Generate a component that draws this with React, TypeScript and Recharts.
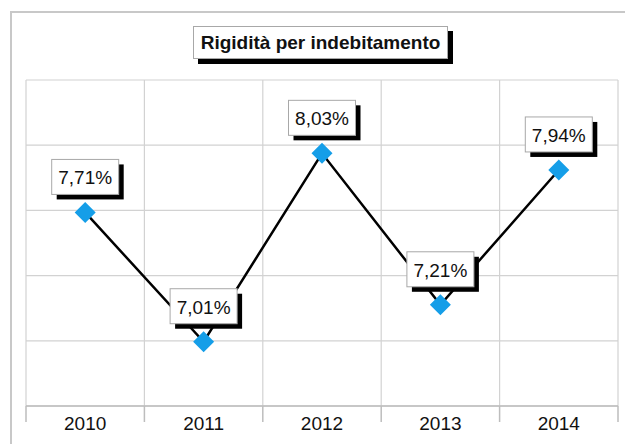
import React from 'react';
import { LineChart, Line, XAxis, YAxis, CartesianGrid, LabelList } from 'recharts';

const title = 'Rigidità per indebitamento';
const categories = ['2010', '2011', '2012', '2013', '2014'];
const values = [7.71, 7.01, 8.03, 7.21, 7.94];
const xBoundaries = [-0.5, 0.5, 1.5, 2.5, 3.5, 4.5];
const yTicks = [6.662, 7.015, 7.368, 7.721, 8.074, 8.427];

const data = values.map((v, i) => ({ idx: i, year: categories[i], value: v }));

const FONT = '"Liberation Sans", Arial, sans-serif';

const fmt = (v: number) => v.toFixed(2).replace('.', ',') + '%';

const YearTick = (props: any) => {
  const { x, y, payload, width, visibleTicksCount } = props;
  const ci = Math.round(payload.value + 0.5);
  if (ci < 0 || ci >= categories.length) return null;
  const count = visibleTicksCount || xBoundaries.length;
  const half = (width || 592) / (count - 1) / 2;
  return (
    <text
      x={x + half}
      y={y}
      textAnchor="middle"
      dominantBaseline="central"
      fontSize={19}
      fontFamily={FONT}
      fill="#111"
    >
      {categories[ci]}
    </text>
  );
};

const Diamond = (props: any) => {
  const { cx, cy } = props;
  if (cx == null || cy == null) return null;
  const r = 10.5;
  return (
    <polygon
      points={`${cx},${cy - r} ${cx + r},${cy} ${cx},${cy + r} ${cx - r},${cy}`}
      fill="#159ee8"
      stroke="none"
    />
  );
};

const ValueLabel = (props: any) => {
  const { x, y, value } = props;
  if (x == null || y == null) return null;
  const w = 67;
  const h = 35;
  const gap = 18;
  const bx = x - w / 2;
  const by = y - gap - h;
  return (
    <g>
      <rect x={bx + 5} y={by + 5} width={w} height={h} fill="#000" />
      <rect x={bx} y={by} width={w} height={h} fill="#fff" stroke="#a8a8a8" strokeWidth={1} />
      <text
        x={x}
        y={by + h / 2 + 1}
        textAnchor="middle"
        dominantBaseline="central"
        fontSize={19}
        fontFamily={FONT}
        fill="#111"
      >
        {fmt(Number(value))}
      </text>
    </g>
  );
};

export default function App() {
  return (
    <div
      style={{
        position: 'absolute',
        left: 0,
        top: 0,
        width: 625,
        height: 444,
        overflow: 'hidden',
        background: '#fff',
      }}
    >
      <div
        style={{
          position: 'absolute',
          left: 10,
          top: 11,
          width: 700,
          height: 500,
          border: '2px solid #c8c8c8',
          boxSizing: 'border-box',
        }}
      />
      <div style={{ position: 'absolute', left: 0, top: 0 }}>
        <LineChart
          width={625}
          height={444}
          data={data}
          margin={{ top: 80, right: 7, bottom: 8, left: 26 }}
        >
          <CartesianGrid stroke="#d2d2d2" strokeWidth={1.2} />
          <XAxis
            type="number"
            dataKey="idx"
            domain={[-0.5, 4.5]}
            ticks={xBoundaries}
            interval={0}
            allowDecimals
            height={30}
            tickSize={16}
            tickMargin={1}
            axisLine={{ stroke: '#bdbdbd', strokeWidth: 1.5 }}
            tickLine={{ stroke: '#bdbdbd', strokeWidth: 1.5 }}
            tick={<YearTick />}
          />
          <YAxis type="number" domain={[6.662, 8.427]} ticks={yTicks} hide width={0} />
          <Line
            type="linear"
            dataKey="value"
            stroke="#000"
            strokeWidth={2.5}
            dot={<Diamond />}
            activeDot={false}
            isAnimationActive={false}
          >
            <LabelList dataKey="value" content={<ValueLabel />} />
          </Line>
        </LineChart>
      </div>
      <div
        style={{
          position: 'absolute',
          left: 193,
          top: 26,
          width: 255,
          height: 33,
          boxSizing: 'border-box',
          border: '1px solid #a8a8a8',
          background: '#fff',
          boxShadow: '5px 5px 0 #000',
          fontFamily: FONT,
          fontWeight: 'bold',
          fontSize: 19,
          color: '#111',
          textAlign: 'center',
          lineHeight: '31px',
          whiteSpace: 'nowrap',
        }}
      >
        {title}
      </div>
    </div>
  );
}
